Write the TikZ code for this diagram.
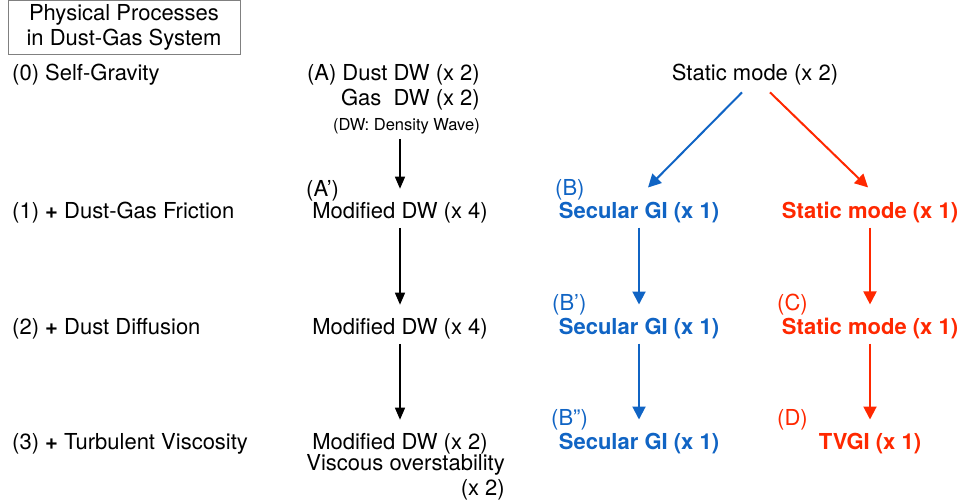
\documentclass[tikz,border=0pt]{standalone}
\usepackage{fontspec}
\setmainfont{TeX Gyre Heros}
\usepackage{xcolor}
\usepackage{tikz}
\usetikzlibrary{arrows.meta}
\definecolor{giblue}{RGB}{16,100,196}
\definecolor{modered}{RGB}{255,40,0}
\tikzstyle{txt} = [inner sep=0pt, font=\fontsize{22}{25}\selectfont]
\tikzstyle{lefttxt} = [txt, anchor=base west]
\tikzstyle{midtxt} = [txt, anchor=base]
\tikzstyle{bluetxt} = [midtxt, text=giblue, font=\fontsize{22}{25}\selectfont\bfseries]
\tikzstyle{redtxt} = [midtxt, text=modered, font=\fontsize{22}{25}\selectfont\bfseries]
\tikzstyle{tag} = [txt, anchor=base west]
\tikzstyle{titlebox} = [rectangle, draw=black!50, line width=1pt, minimum width=232pt, minimum height=54pt, align=center, inner sep=0pt, font=\fontsize{22}{25}\selectfont]
\tikzstyle{blkarrow} = [-{Triangle[length=12pt,width=10pt]}, line width=1.4pt, black]
\tikzstyle{bluearrow} = [-{Triangle[length=13pt,width=13pt]}, line width=2pt, giblue]
\tikzstyle{redarrow} = [-{Triangle[length=13pt,width=13pt]}, line width=2pt, modered]
\tikzstyle{vgap} = [shorten <=5pt, shorten >=13pt]

\begin{document}
\begin{tikzpicture}[x=1pt, y=-1pt]
        \useasboundingbox (0,0) rectangle (963,499);
        \node (title) [titlebox] at (124,27.5) {Physical Processes\\in Dust-Gas System};

        % physical processes
        \node (proc0) [lefttxt] at (12,80) {(0) Self-Gravity};
        \node (proc1) [lefttxt] at (12,218) {(1) \textbf{+} Dust-Gas Friction};
        \node (proc2) [lefttxt] at (12,334) {(2) \textbf{+} Dust Diffusion};
        \node (proc3) [lefttxt] at (12,449) {(3) \textbf{+} Turbulent Viscosity};

        % density waves
        \node (dwA) [txt, align=right, anchor=base east] at (480,130) {(A) Dust DW (x 2)\\Gas\ \ DW (x 2)\\{\fontsize{16.5}{25}\selectfont (DW: Density Wave)}};
        \node (modA1) [midtxt] at (400,218) {Modified DW (x 4)};
        \node (tagA1) [tag] at (306,196) {(A’)};
        \node (modA2) [midtxt] at (400,334) {Modified DW (x 4)};
        \node (modA3) [midtxt] at (400,449) {Modified DW (x 2)};
        \node (visc) [txt, align=right, anchor=base east] at (505,495) {Viscous overstability\\(x 2)};

        % static modes
        \node (static2) [midtxt] at (755,80) {Static mode (x 2)};
        \node (secB1) [bluetxt] at (639,218) {Secular GI (x 1)};
        \node (tagB1) [tag, text=giblue] at (555,195) {(B)};
        \node (secB2) [bluetxt] at (639,334) {Secular GI (x 1)};
        \node (tagB2) [tag, text=giblue] at (552,310) {(B’)};
        \node (secB3) [bluetxt] at (639,449) {Secular GI (x 1)};
        \node (tagB3) [tag, text=giblue] at (551,425) {(B”)};
        \node (static1) [redtxt] at (870,218) {Static mode (x 1)};
        \node (staticC) [redtxt] at (870,334) {Static mode (x 1)};
        \node (tagC) [tag, text=modered] at (777,310) {(C)};
        \node (tvgi) [redtxt] at (870,449) {TVGI (x 1)};
        \node (tagD) [tag, text=modered] at (777,425) {(D)};

        \draw [blkarrow, vgap] (modA1.north |- dwA.south) -- (modA1.north);
        \draw [blkarrow, vgap] (modA1) -- (modA2);
        \draw [blkarrow, vgap] (modA2) -- (modA3);
        \draw [bluearrow] ([xshift=-13pt,yshift=-7.5pt]static2.south) -- ([xshift=9pt,yshift=14pt]secB1.north);
        \draw [redarrow] ([xshift=15pt,yshift=-7.5pt]static2.south) -- ([xshift=-2pt,yshift=14pt]static1.north);
        \draw [bluearrow, vgap] (secB1) -- (secB2);
        \draw [bluearrow, vgap] (secB2) -- (secB3);
        \draw [redarrow, vgap] (static1) -- (staticC);
        \draw [redarrow, vgap] (staticC) -- (tvgi);
    \end{tikzpicture}
\end{document}
